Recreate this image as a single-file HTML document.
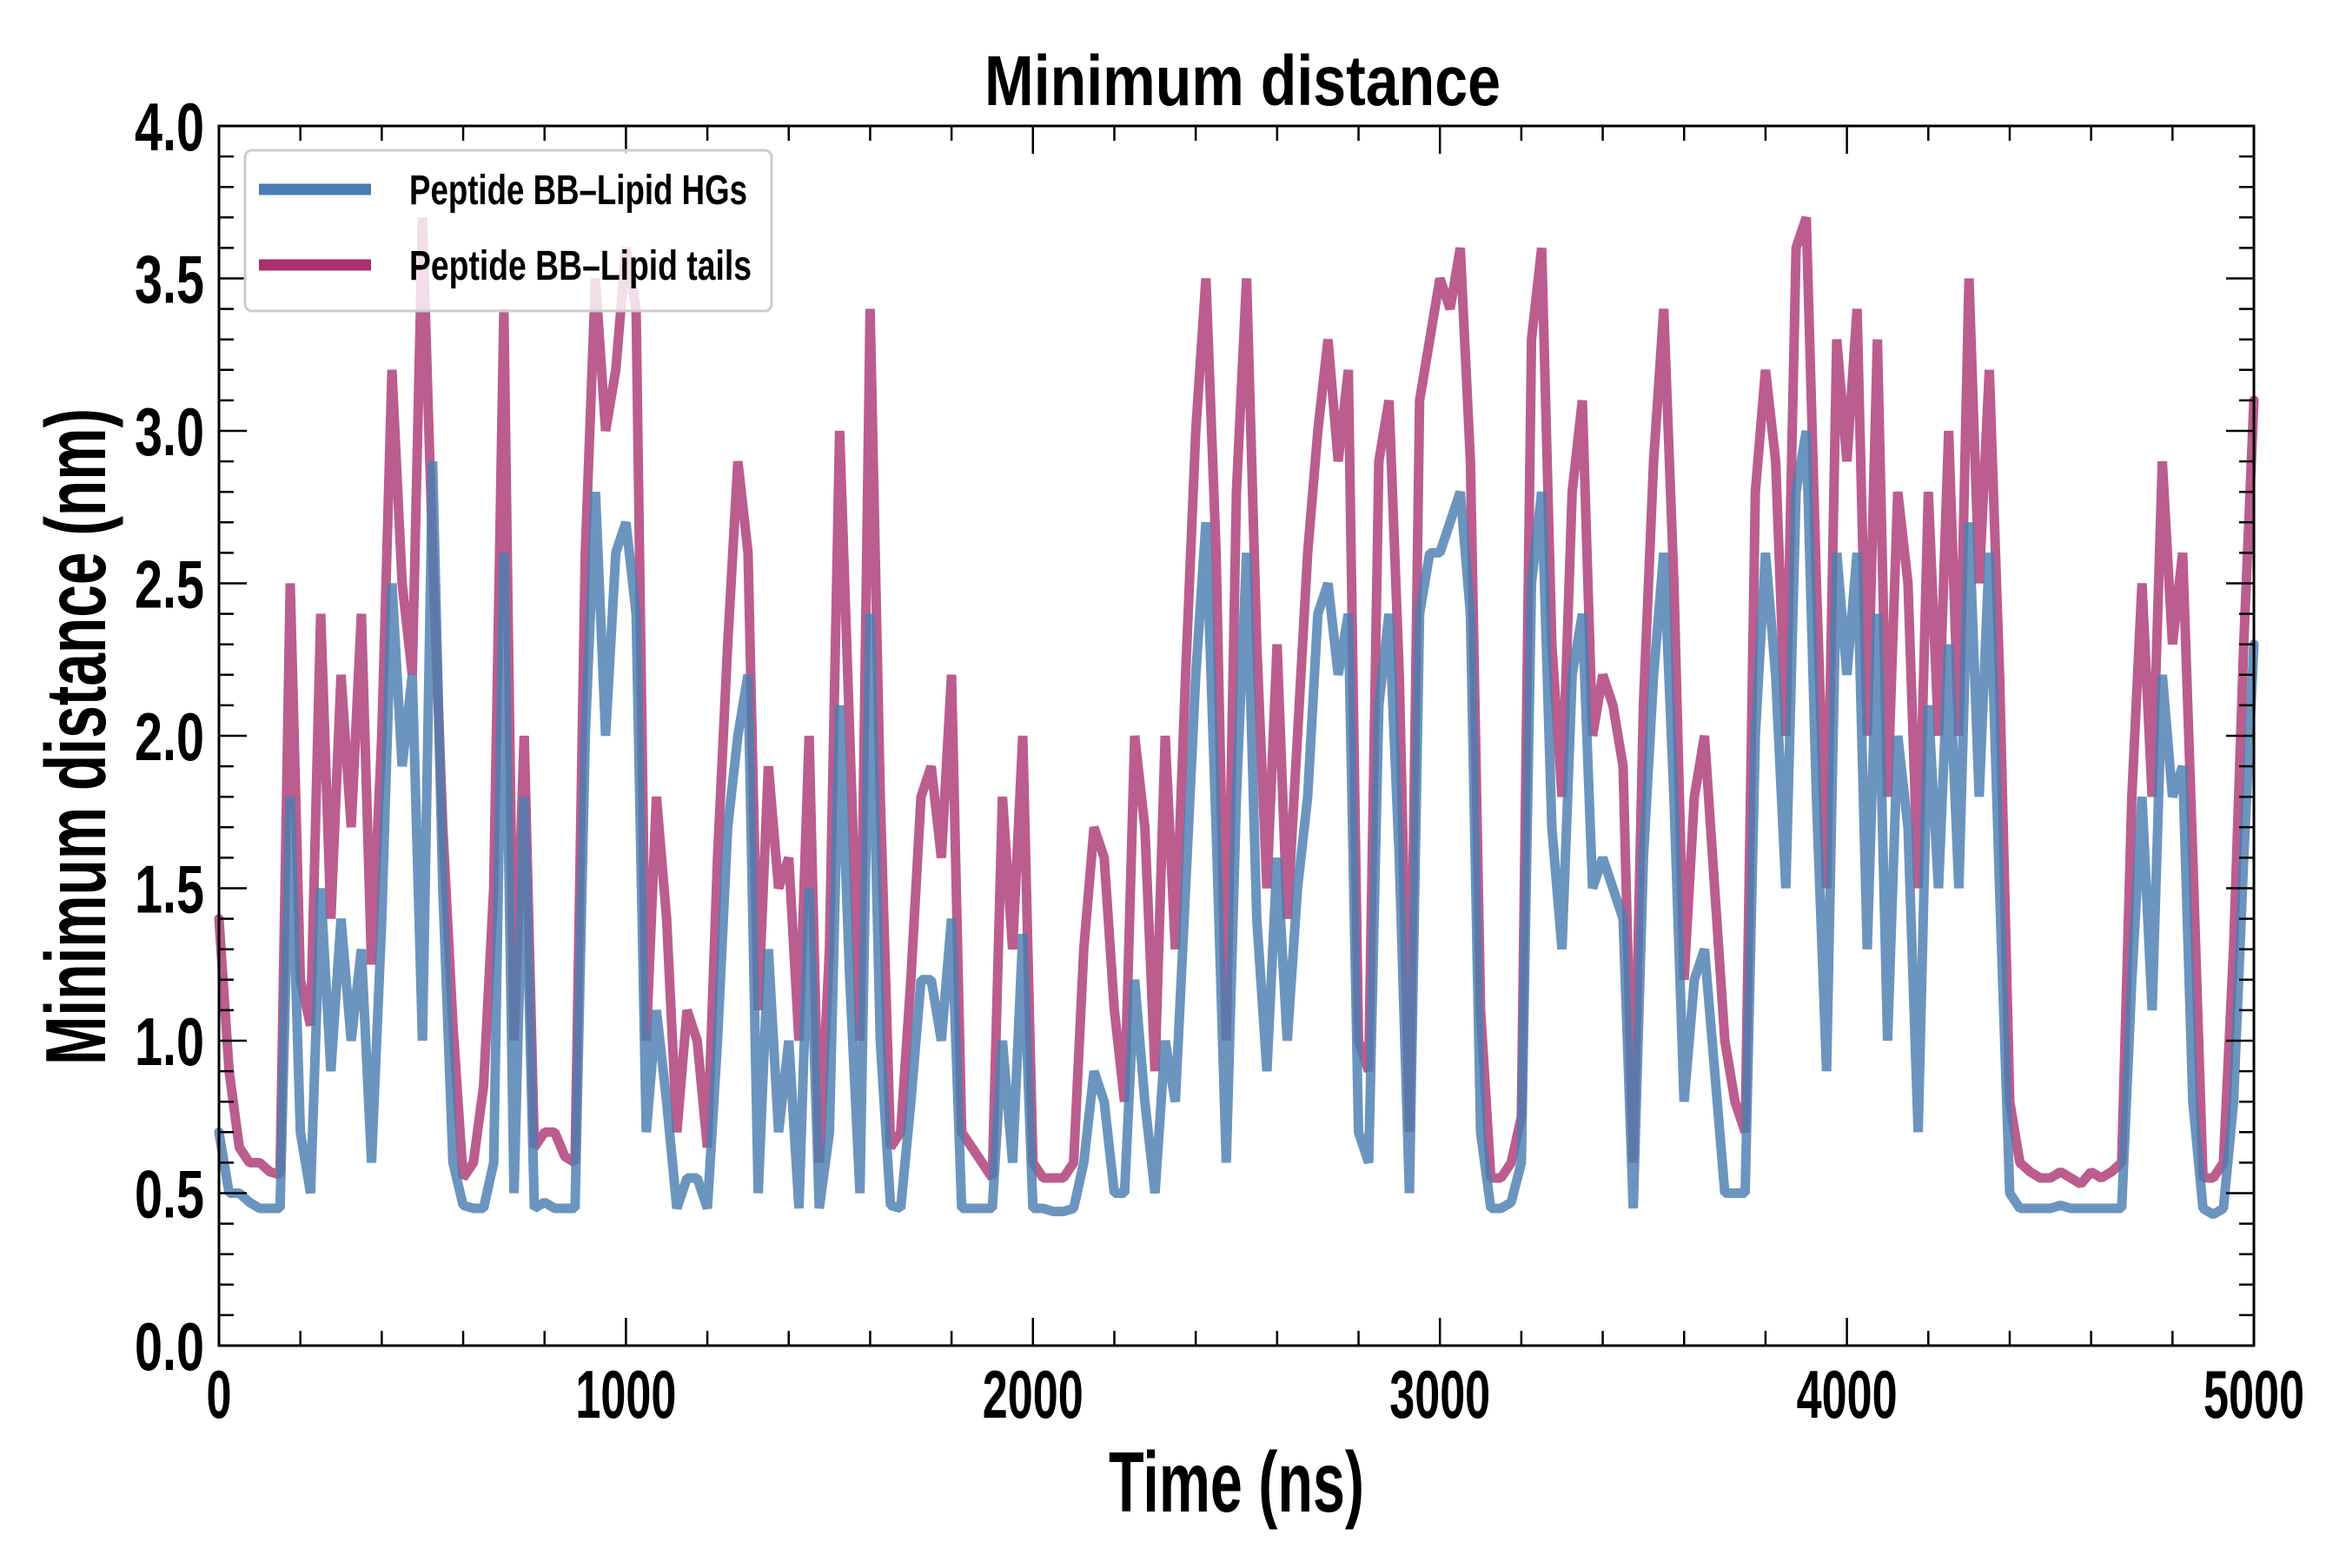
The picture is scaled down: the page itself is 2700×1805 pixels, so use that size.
<!DOCTYPE html>
<html><head><meta charset="utf-8"><style>
html,body{margin:0;padding:0;background:#fff;}
svg text{font-family:"Liberation Sans Narrow","Liberation Sans",sans-serif;font-weight:bold;fill:#000;}
</style></head><body>
<svg id="chart" width="2700" height="1800" viewBox="0 0 2700 1800" xmlns="http://www.w3.org/2000/svg">
<rect width="2700" height="1800" fill="#fff"/>
<text x="1430" y="121" font-size="82" text-anchor="middle" textLength="594" lengthAdjust="spacingAndGlyphs">Minimum distance</text>
<g id="series"></g>
<g id="ticks"></g>
<rect x="252" y="145" width="2342" height="1404" fill="none" stroke="#000" stroke-width="3"/>
<text x="1423" y="1740" font-size="98" text-anchor="middle" textLength="294" lengthAdjust="spacingAndGlyphs">Time (ns)</text>
<text transform="translate(121,848) rotate(-90)" x="0" y="0" font-size="98" text-anchor="middle" textLength="756" lengthAdjust="spacingAndGlyphs">Minimum distance (nm)</text>
<g>
<rect x="282" y="173" width="606" height="185" rx="8" fill="#fff" fill-opacity="0.8" stroke="#ccc" stroke-width="3"/>
<line x1="298" y1="218" x2="427" y2="218" stroke="#4a7eb0" stroke-width="13"/>
<text x="471" y="235" font-size="48" textLength="389" lengthAdjust="spacingAndGlyphs">Peptide BB–Lipid HGs</text>
<line x1="298" y1="305" x2="427" y2="305" stroke="#a8306e" stroke-width="13"/>
<text x="471" y="322" font-size="48" textLength="394" lengthAdjust="spacingAndGlyphs">Peptide BB–Lipid tails</text>
</g>
</svg>
<script>
const timeMax = 5000;
const tailsValues = [1.4,0.9,0.65,0.6,0.6,0.57,0.56,2.5,1.2,1.05,2.4,1.4,2.2,1.7,2.4,1.25,2.0,3.2,2.5,2.2,3.7,2.6,1.7,1.05,0.55,0.6,0.85,1.5,3.4,1.0,2.0,0.65,0.7,0.7,0.62,0.6,2.6,3.5,3.0,3.2,3.6,3.4,1.0,1.8,1.4,0.7,1.1,1.0,0.65,1.6,2.3,2.9,2.6,1.1,1.9,1.5,1.6,1.0,2.0,0.6,1.3,3.0,2.0,1.0,3.4,1.8,0.65,0.7,1.2,1.8,1.9,1.6,2.2,0.7,0.65,0.6,0.55,1.8,1.3,2.0,0.6,0.55,0.55,0.55,0.6,1.3,1.7,1.6,1.1,0.8,2.0,1.7,0.9,2.0,1.3,2.2,3.0,3.5,2.6,1.0,2.8,3.5,2.3,1.5,2.3,1.4,2.0,2.6,3.0,3.3,2.9,3.2,1.0,0.9,2.9,3.1,2.2,0.7,3.1,3.3,3.5,3.4,3.6,2.9,1.1,0.55,0.55,0.6,0.75,3.3,3.6,2.3,1.8,2.8,3.1,2.0,2.2,2.1,1.9,0.6,2.1,2.9,3.4,2.5,1.2,1.8,2.0,1.5,1.0,0.8,0.7,2.8,3.2,2.9,2.0,3.6,3.7,2.5,1.5,3.3,2.9,3.4,2.0,3.3,1.8,2.8,2.5,1.5,2.8,2.0,3.0,2.0,3.5,2.5,3.2,2.2,0.8,0.6,0.57,0.55,0.55,0.57,0.55,0.53,0.57,0.55,0.57,0.6,1.8,2.5,1.8,2.9,2.3,2.6,1.6,0.55,0.55,0.6,1.3,2.3,3.1];
const hgsValues = [0.7,0.5,0.5,0.47,0.45,0.45,0.45,1.8,0.7,0.5,1.5,0.9,1.4,1.0,1.3,0.6,1.4,2.5,1.9,2.2,1.0,2.9,1.5,0.6,0.46,0.45,0.45,0.6,2.6,0.5,1.8,0.45,0.47,0.45,0.45,0.45,2.0,2.8,2.0,2.6,2.7,2.4,0.7,1.1,0.8,0.45,0.55,0.55,0.45,1.0,1.7,2.0,2.2,0.5,1.3,0.7,1.0,0.45,1.5,0.45,0.7,2.1,1.2,0.5,2.4,1.0,0.46,0.45,0.8,1.2,1.2,1.0,1.4,0.45,0.45,0.45,0.45,1.0,0.6,1.35,0.45,0.45,0.44,0.44,0.45,0.6,0.9,0.8,0.5,0.5,1.2,0.8,0.5,1.0,0.8,1.5,2.2,2.7,1.7,0.6,1.8,2.6,1.4,0.9,1.6,1.0,1.5,1.8,2.4,2.5,2.2,2.4,0.7,0.6,2.1,2.4,1.6,0.5,2.4,2.6,2.6,2.7,2.8,2.4,0.7,0.45,0.45,0.47,0.6,2.5,2.8,1.7,1.3,2.2,2.4,1.5,1.6,1.5,1.4,0.45,1.6,2.2,2.6,1.8,0.8,1.2,1.3,0.9,0.5,0.5,0.5,2.0,2.6,2.2,1.5,2.8,3.0,1.8,0.9,2.6,2.2,2.6,1.3,2.4,1.0,2.0,1.7,0.7,2.1,1.5,2.3,1.5,2.7,1.8,2.6,1.5,0.5,0.45,0.45,0.45,0.45,0.46,0.45,0.45,0.45,0.45,0.45,0.45,1.2,1.8,1.1,2.2,1.8,1.9,0.8,0.45,0.43,0.45,0.8,1.6,2.3];
const xTickLabels = ["0","1000","2000","3000","4000","5000"];
const yTickLabels = ["0.0","0.5","1.0","1.5","2.0","2.5","3.0","3.5","4.0"];

const NS = "http://www.w3.org/2000/svg";
const L = 252, R = 2594, T = 145, B = 1549;
const yMax = 4;
function xScale(t){ return L + (t / timeMax) * (R - L); }
function yScale(v){ return B - (v / yMax) * (B - T); }
function mk(tag, attrs){ const e = document.createElementNS(NS, tag); for (const k in attrs) e.setAttribute(k, attrs[k]); return e; }

const series = document.getElementById('series');
function drawLine(vals, color, op, name){
  const n = vals.length;
  const pts = vals.map((v,i)=> xScale(i*timeMax/(n-1)).toFixed(1)+','+yScale(v).toFixed(1)).join(' ');
  const pl = mk('polyline', {points: pts, fill:'none', stroke: color, 'stroke-width': 11, 'stroke-opacity': op, 'stroke-linejoin':'bevel', 'stroke-linecap':'round'});
  
  
  series.appendChild(pl);
}
drawLine(tailsValues, '#a8306e', 0.78, 'series-lipid-tails');
drawLine(hgsValues, '#4a7eb0', 0.82, 'series-lipid-hgs');

const ticks = document.getElementById('ticks');
const svg = document.getElementById('chart');
for (let t = 0; t <= timeMax; t += 200) {
  const x = xScale(t); const major = t % 1000 === 0; const len = major ? 32 : 17;
  const a = mk('line', {x1:x, y1:B, x2:x, y2:B-len, stroke:'#000','stroke-width':2.5});
  
  
  ticks.appendChild(a);
  const b = mk('line', {x1:x, y1:T, x2:x, y2:T+len, stroke:'#000','stroke-width':2.5});
  
  
  ticks.appendChild(b);
}
xTickLabels.forEach((lab)=>{
  const t = parseFloat(lab);
  const tx = mk('text', {x:xScale(t), y:1632, 'font-size':78, 'text-anchor':'middle', textLength: 29*lab.length, lengthAdjust:'spacingAndGlyphs'});
  
  
  tx.textContent = lab;
  svg.appendChild(tx);
});
for (let k = 0; k <= 40; k++) {
  const v = k/10; const y = yScale(v); const major = k % 5 === 0; const len = major ? 32 : 17;
  const a = mk('line', {x1:L, y1:y, x2:L+len, y2:y, stroke:'#000','stroke-width':2.5});
  
  
  ticks.appendChild(a);
  const b = mk('line', {x1:R, y1:y, x2:R-len, y2:y, stroke:'#000','stroke-width':2.5});
  
  
  ticks.appendChild(b);
}
yTickLabels.forEach((lab)=>{
  const v = parseFloat(lab);
  const tx = mk('text', {x:235, y:yScale(v)+28, 'font-size':78, 'text-anchor':'end', textLength:80, lengthAdjust:'spacingAndGlyphs'});
  
  
  tx.textContent = lab;
  svg.appendChild(tx);
});
</script>
</body></html>
